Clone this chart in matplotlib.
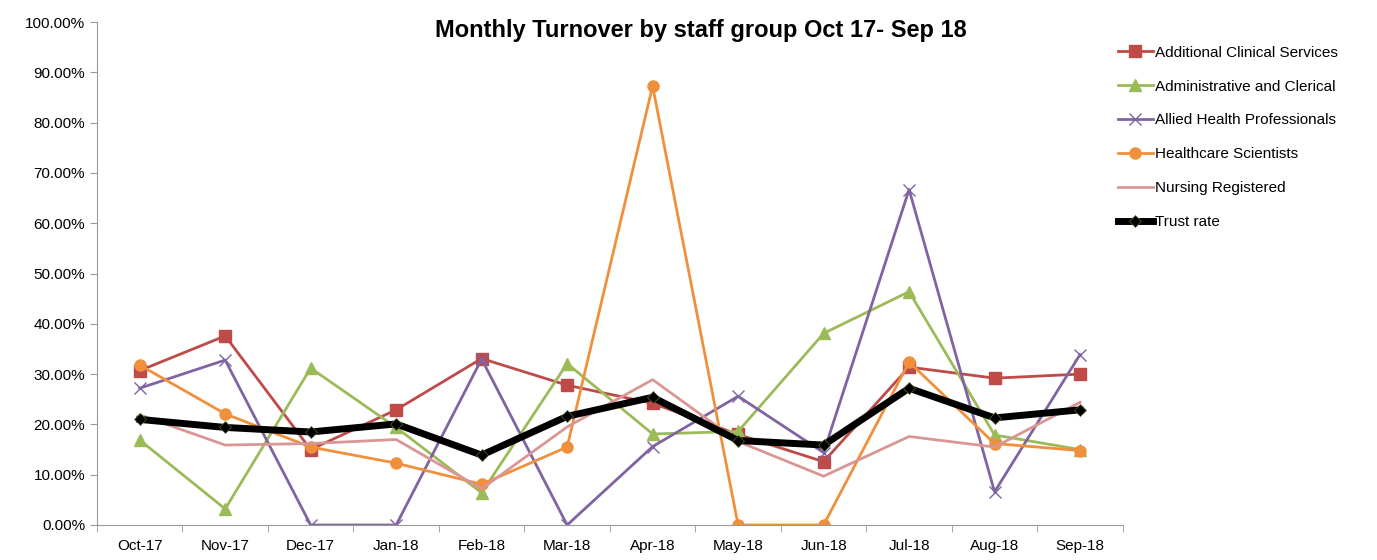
import numpy as np
import matplotlib.pyplot as plt
from matplotlib.ticker import FuncFormatter

months = ['Oct-17','Nov-17','Dec-17','Jan-18','Feb-18','Mar-18','Apr-18','May-18','Jun-18','Jul-18','Aug-18','Sep-18']

# turnover (%) per staff group
acs = [30.7, 37.6, 15.0, 22.9, 33.1, 27.8, 24.2, 18.0, 12.6, 31.4, 29.2, 30.0]
admin = [16.9, 3.2, 31.2, 19.4, 6.4, 32.1, 18.1, 18.6, 38.1, 46.4, 17.9, 15.0]
ahp = [27.2, 32.8, 0.0, 0.0, 33.0, 0.0, 15.6, 25.6, 14.4, 66.7, 6.6, 33.9]
hcs = [31.8, 22.1, 15.5, 12.3, 8.1, 15.5, 87.3, 0.0, 0.0, 32.4, 16.2, 14.8]
nursing = [21.9, 15.9, 16.2, 17.0, 7.2, 19.5, 28.9, 16.6, 9.7, 17.6, 15.5, 24.4]
trust = [21.0, 19.4, 18.5, 20.1, 13.9, 21.6, 25.4, 16.8, 15.9, 27.2, 21.3, 22.9]

plt.rcParams['font.family'] = ['Liberation Sans', 'DejaVu Sans']

fig = plt.figure(figsize=(13.77, 5.6), dpi=100)
ax = fig.add_axes([0.0704, 0.0625, 0.745, 0.898])
x = np.arange(len(months))

ax.plot(x, acs, color='#BE4B48', lw=2, marker='s', ms=8, label='Additional Clinical Services')
ax.plot(x, admin, color='#9BBB59', lw=2, marker='^', ms=8, label='Administrative and Clerical')
ax.plot(x, ahp, color='#8064A2', lw=2, marker='x', ms=9, mew=1, label='Allied Health Professionals')
ax.plot(x, hcs, color='#F0903C', lw=2, marker='o', ms=8, label='Healthcare Scientists')
ax.plot(x, nursing, color='#D99694', lw=2, label='Nursing Registered')
ax.plot(x, trust, color='black', lw=5, marker='D', ms=6, mec='#556b2f', mew=0.5, label='Trust rate')

ax.set_xlim(-0.5, len(months) - 0.5)
ax.set_ylim(0, 100)
ax.set_yticks(np.arange(0, 101, 10))
ax.yaxis.set_major_formatter(FuncFormatter(lambda v, p: '%.2f%%' % v))
ax.set_xticks(x)
ax.set_xticklabels(months)
ax.set_xticks(np.arange(-0.5, len(months)), minor=True)
ax.tick_params(axis='x', which='major', length=0, labelsize=11, pad=10)
ax.tick_params(axis='x', which='minor', length=5, color='#999999')
ax.tick_params(axis='y', length=5, color='#999999', labelsize=11)
for s in ['top', 'right']:
    ax.spines[s].set_visible(False)
for s in ['left', 'bottom']:
    ax.spines[s].set_color('#999999')

fig.text(0.509, 0.945, 'Monthly Turnover by staff group Oct 17- Sep 18', ha='center', va='center',
         fontsize=17, fontweight='bold')

ax.legend(loc='upper left', bbox_to_anchor=(0.806, 0.932), bbox_transform=fig.transFigure,
          frameon=False, fontsize=11, handlelength=2.3, handletextpad=0.15, labelspacing=1.3,
          borderpad=0)

fig.savefig('out.png', dpi=100)
